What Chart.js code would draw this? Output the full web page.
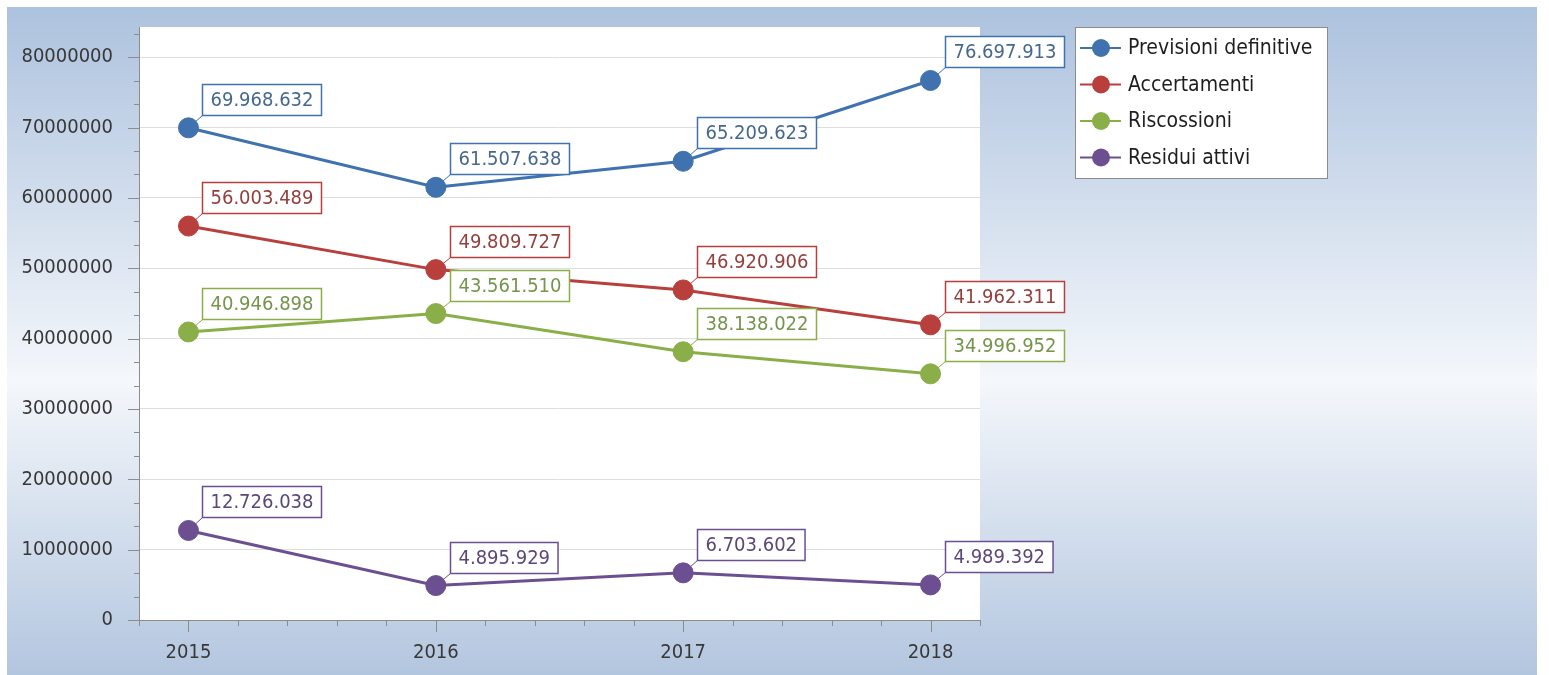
<!DOCTYPE html>
<html>
<head>
<meta charset="utf-8">
<script src="https://cdn.jsdelivr.net/npm/chart.js@4.4.1/dist/chart.umd.min.js"></script>
<style>
  html, body { margin: 0; padding: 0; background: #fff; }
  #wrap { position: absolute; left: 7px; top: 7px; width: 1530px; height: 668px; }
</style>
</head>
<body>
<div id="wrap"><canvas id="chart" width="1530" height="668"></canvas></div>
<script>
const years = [2015, 2016, 2017, 2018];
const previsioni = [69968632, 61507638, 65209623, 76697913];
const accertamenti = [56003489, 49809727, 46920906, 41962311];
const riscossioni = [40946898, 43561510, 38138022, 34996952];
const residui = [12726038, 4895929, 6703602, 4989392];
const seriesNames = ['Previsioni definitive', 'Accertamenti', 'Riscossioni', 'Residui attivi'];
const yTicks = [0, 10000000, 20000000, 30000000, 40000000, 50000000, 60000000, 70000000, 80000000];

const lineColors = ['#3f72ae', '#b83f3c', '#8aae48', '#6b4f90'];
const textColors = ['#46688f', '#94403d', '#76944c', '#5b4778'];
const FONT = '"DejaVu Sans Condensed", "DejaVu Sans", sans-serif';

const fmt = v => String(v).replace(/\B(?=(\d{3})+(?!\d))/g, '.');

const allSeries = [previsioni, accertamenti, riscossioni, residui];

// background gradient + white plot panel
const backgroundPlugin = {
    id: 'bg',
    beforeDraw(chart) {
        const { ctx, width, height, chartArea: a } = chart;
        const g = ctx.createLinearGradient(0, 0, 0, height);
        g.addColorStop(0, '#adc2de');
        g.addColorStop(0.56, '#f4f7fb');
        g.addColorStop(1, '#b3c6df');
        ctx.save();
        ctx.fillStyle = g;
        ctx.fillRect(0, 0, width, height);
        ctx.fillStyle = '#ffffff';
        ctx.fillRect(a.left, a.top, a.right - a.left, a.bottom - a.top);
        ctx.restore();
    }
};

// axis lines, major and minor tick marks
const axesPlugin = {
    id: 'axes',
    afterDraw(chart) {
        const { ctx, chartArea: a, scales } = chart;
        const x = scales.x, y = scales.y;
        ctx.save();
        ctx.strokeStyle = '#8c8c8c';
        ctx.lineWidth = 1;
        ctx.beginPath();
        ctx.moveTo(a.left + 0.5, a.top);
        ctx.lineTo(a.left + 0.5, a.bottom);
        ctx.moveTo(a.left - 11, a.bottom + 0.5);
        ctx.lineTo(a.right, a.bottom + 0.5);
        // y ticks
        for (let v = 0; v <= y.max; v += 10000000 / 3) {
            const py = Math.round(y.getPixelForValue(v)) + 0.5;
            const major = Math.abs(v / 10000000 - Math.round(v / 10000000)) < 1e-6;
            ctx.moveTo(a.left - (major ? 11 : 5), py);
            ctx.lineTo(a.left, py);
        }
        // x ticks
        for (let i = 0; i <= 17; i++) {
            const v = x.min + i * 0.2;
            const px = Math.round(x.getPixelForValue(v)) + 0.5;
            const major = Math.abs(v - Math.round(v)) < 1e-6;
            ctx.moveTo(px, a.bottom);
            ctx.lineTo(px, a.bottom + (major ? 12 : 6));
        }
        ctx.stroke();
        ctx.restore();
    }
};

// boxed value labels with a connector
const labelPlugin = {
    id: 'valueLabels',
    afterDatasetsDraw(chart) {
        const ctx = chart.ctx;
        ctx.save();
        ctx.font = '20px ' + FONT;
        chart.data.datasets.forEach((ds, i) => {
            const meta = chart.getDatasetMeta(i);
            meta.data.forEach((pt, j) => {
                const text = fmt(allSeries[i][j]);
                const w = ctx.measureText(text).width + 16;
                const h = 31;
                const bx = Math.round(pt.x + 14) + 0.5;
                const by = Math.round(pt.y - 13 - h) + 0.5;
                ctx.strokeStyle = lineColors[i];
                ctx.lineWidth = 1;
                ctx.beginPath();
                ctx.moveTo(pt.x, pt.y);
                ctx.lineTo(bx, by + h);
                ctx.stroke();
                ctx.fillStyle = '#ffffff';
                ctx.fillRect(bx, by, w, h);
                ctx.lineWidth = 1.5;
                ctx.strokeRect(bx, by, w, h);
                ctx.fillStyle = textColors[i];
                ctx.textBaseline = 'middle';
                ctx.fillText(text, bx + 8, by + h / 2 + 1);
            });
        });
        ctx.restore();
    }
};

// legend box on the right
const legendPlugin = {
    id: 'customLegend',
    afterDraw(chart) {
        const ctx = chart.ctx;
        const lx = 1068, ly = 20, lw = 252, lh = 151;
        ctx.save();
        ctx.fillStyle = '#ffffff';
        ctx.fillRect(lx, ly, lw, lh);
        ctx.strokeStyle = '#8c8c8c';
        ctx.lineWidth = 1;
        ctx.strokeRect(lx + 0.5, ly + 0.5, lw, lh);
        ctx.font = '21px ' + FONT;
        ctx.textBaseline = 'middle';
        seriesNames.forEach((name, i) => {
            const cy = ly + 21 + i * 36.5;
            ctx.strokeStyle = lineColors[i];
            ctx.lineWidth = 2;
            ctx.beginPath();
            ctx.moveTo(lx + 5, cy);
            ctx.lineTo(lx + 46, cy);
            ctx.stroke();
            ctx.fillStyle = lineColors[i];
            ctx.beginPath();
            ctx.arc(lx + 26, cy, 9, 0, Math.PI * 2);
            ctx.fill();
            ctx.fillStyle = '#1e1e1e';
            ctx.fillText(name, lx + 53, cy + 1);
        });
        ctx.restore();
    }
};

const ctx = document.getElementById('chart').getContext('2d');

new Chart(ctx, {
    type: 'line',
    data: {
        datasets: allSeries.map((values, i) => ({
            label: seriesNames[i],
            data: values.map((v, j) => ({ x: years[j], y: v })),
            borderColor: lineColors[i],
            backgroundColor: lineColors[i],
            pointBackgroundColor: lineColors[i],
            pointBorderColor: lineColors[i],
            borderWidth: 3,
            pointRadius: 10,
            pointBorderWidth: 1,
            tension: 0,
            clip: false
        }))
    },
    options: {
        responsive: false,
        animation: false,
        events: [],
        layout: { padding: { top: 20, right: 557, left: 0, bottom: 0 } },
        plugins: { legend: { display: false }, tooltip: { enabled: false } },
        scales: {
            x: {
                type: 'linear',
                min: 2014.8,
                max: 2018.2,
                afterBuildTicks: s => { s.ticks = years.map(v => ({ value: v })); },
                afterFit: s => {
                    s.height = 55;
                    s.paddingLeft = 0; s.paddingRight = 0;
                },
                grid: { display: false, drawTicks: false },
                border: { display: false },
                ticks: {
                    padding: 21,
                    color: '#383838',
                    font: { family: FONT, size: 20 },
                    callback: v => String(v),
                    maxRotation: 0
                }
            },
            y: {
                min: 0,
                max: 84300000,
                afterBuildTicks: s => { s.ticks = yTicks.map(v => ({ value: v })); },
                afterFit: s => {
                    s.width = 132;
                    s.paddingTop = 0; s.paddingBottom = 0;
                },
                grid: { color: '#dedede', lineWidth: 1, drawTicks: false },
                border: { display: false },
                ticks: {
                    padding: 26,
                    color: '#383838',
                    font: { family: FONT, size: 20 },
                    callback: v => String(v)
                }
            }
        }
    },
    plugins: [backgroundPlugin, axesPlugin, labelPlugin, legendPlugin]
});
</script>
</body>
</html>
